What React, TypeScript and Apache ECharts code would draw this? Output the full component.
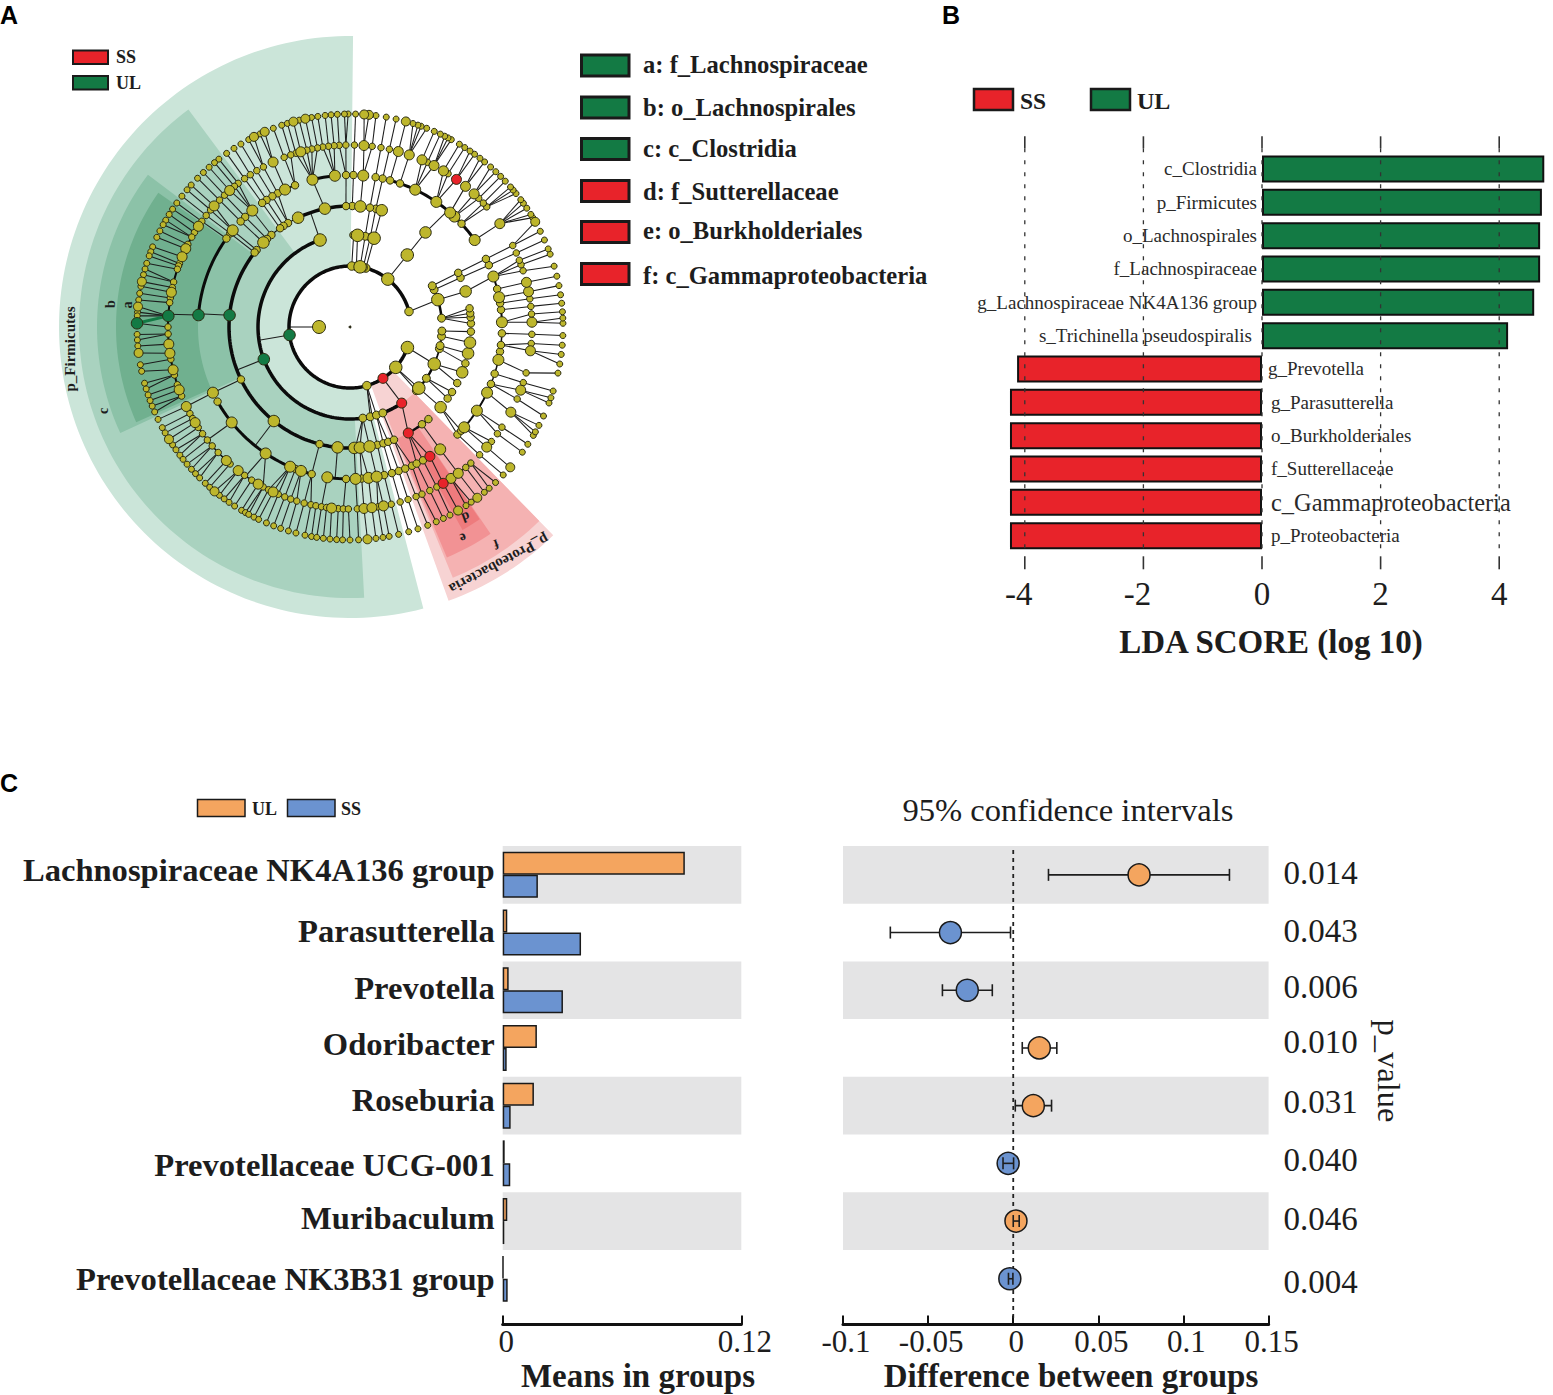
import React, { useEffect, useRef } from "react";
import * as echarts from "echarts";

const SERIF = '"Liberation Serif"';

// ---------- Panel A: cladogram, angles in degrees (counter-clockwise from east) ----------
const speciesSmall = [1, 2.4, 4.1, 6.4, 8.7, 11.2, 13.8, 16.6, 20, 21.5, 24.1, 26.7, 30.9, 31.9, 33.9, 35.5, 36.7, 38.8, 40, 41.1, 43.2, 45, 46.8, 48.7, 50.8, 52.4, 54.2, 55.7, 57.4, 59.1, 61.6, 62.6, 63.6, 64.9, 66.7, 68.9, 70.5, 71.4, 72.8, 77.5, 80.2, 83, 88.5, 90.5, 91.5, 93.4, 95.1, 96.7, 98.7, 100.4, 103.8, 107.1, 108.7, 111.1, 115, 118.4, 120.8, 123, 125.4, 128, 129.5, 131.4, 133.5, 135.7, 138.2, 139.9, 142.1, 144.4, 146.4, 148.1, 149.9, 151.3, 153.2, 155.1, 157.9, 159.3, 160.5, 162.6, 164.2, 165.8, 169, 170.9, 172.7, 176, 177, 182, 183.5, 185.1, 190.2, 192, 195.3, 196.9, 198.6, 200.2, 201.8, 203.5, 205.7, 208.2, 209.8, 213.6, 215.2, 217, 218.4, 220.1, 221.9, 223.5, 225.1, 227.2, 228.8, 232.2, 233.8, 235.4, 237.2, 239.4, 240.6, 241.6, 243.2, 244.6, 246.9, 249, 251, 253.2, 255.3, 257.8, 259.6, 261, 262.8, 264.6, 266.4, 268, 270, 272.3, 277, 278.9, 280.6, 283.2, 286, 288.6, 291.4, 293.9, 296, 298, 303, 304.7, 309.1, 310.8, 313.1, 316, 324, 326.6, 329.4, 330.5, 332.5, 335.3, 339.1, 340.6, 342.5, 347.5, 350, 352.6, 355.1, 357.7];
const speciesBig = [29.6, 74.8, 84.9, 86.2, 102.1, 105.4, 113.6, 116.8, 167.7, 174.5, 187, 211.8, 230.5, 274.7, 300.5, 306.7, 318.8];
const genusSmall = [4.1, 6.5, 8.9, 18, 20, 21.5, 24, 26.6, 41.3, 42.9, 45, 57.4, 64.8, 77.5, 80.2, 83, 88.6, 91.3, 93.4, 95, 96.8, 98.6, 100.3, 102.1, 103.7, 107.3, 109, 111.2, 118.4, 120.8, 123.2, 125.4, 127.9, 129.4, 133.6, 135.8, 140, 142.2, 144.5, 148.7, 150.4, 153, 159.6, 160.4, 161.5, 165.7, 167.5, 170.8, 172.3, 180, 182.2, 190.2, 195.3, 198.5, 202.3, 208.4, 210.2, 213.5, 215.9, 218.4, 220.8, 223.6, 228.8, 234.6, 237.3, 241.5, 243.4, 246.8, 249, 251, 253, 255.4, 257.6, 259.2, 261, 262.6, 266.3, 267.9, 269.5, 272.3, 278.8, 283.1, 286, 288.6, 291.3, 293.3, 296, 298.5, 309.5, 311.6, 315.4, 321, 324.1, 326.6, 336.7, 342.2, 345.4, 354.8, 357.7];
const genusBig = [1.5, 11.2, 14.2, 34.6, 47, 50.6, 59.1, 62.5, 66.7, 71, 74.6, 85.6, 105.7, 115, 131.4, 138.3, 146.4, 154.5, 157.3, 169, 185.4, 188.3, 193.6, 200.2, 205.9, 211.7, 227.2, 232.1, 239.7, 245, 264.2, 274.4, 276.9, 280.6, 303.7, 306.5, 318.7, 332.1, 339.7, 352.5];
const familySmall = [6.5, 9, 14.5, 24, 26.6, 42.8, 70.8, 74.7, 77.6, 80.3, 88.7, 91.5, 111.2, 118.4, 120.7, 123.3, 125.3, 133.6, 136, 142, 144.4, 209.4, 249, 255.4, 268.5, 274.4, 283, 286, 288.7, 291.3, 294.1, 296, 298.7, 315, 317, 338, 342.1, 350.7, 353.2, 357.6];
const familyBig = [1.8, 11.3, 19.4, 34.9, 46.6, 48.8, 55.4, 64.6, 85, 95.7, 104.3, 115.3, 130, 140.5, 205.6, 218.9, 236.3, 246.8, 251.2, 261.4, 272.1, 277, 280.1, 306.4, 318.7, 326.6, 334.4, 347.5];
const orderSmall = [1.7, 4.6, 6.5, 8.9, 24, 26.6, 77.7, 80.5, 88.9, 91.9, 120.8, 123.3, 125.3, 130.5, 133.3, 140.5, 142, 205.7, 255.4, 272.5, 283.1, 286, 288.4, 291.3, 306.5, 310.4, 323.8, 327.5, 332.4, 342.5, 357.8];
const orderBig = [17.1, 51.4, 74.8, 85.1, 102, 115.4, 135.7, 231, 264.1, 272, 274.7, 279.3, 318.5, 338, 347.4, 352.6];
const classSmall = [5.5, 23.9, 26.6, 77.3, 80.5, 87.7, 278, 282.7, 286.7, 290.9, 316.2, 326.1, 346.4, 348.3, 354.2, 357.5];
const classBig = [17.3, 51.5, 74.8, 85.3, 109, 318.4, 336.3];
const phylumSmall = [14.7, 75, 77.5, 84, 88.4, 286];
const phylumBig = [51.7, 80.5, 318.6, 340.3];
const innerNode = [[31, 180]];
const greenNodes = [[61, 187.5], [92, 200.5], [121, 174.4], [152, 175.5], [182, 176.5], [213, 179]];
const redNodes = [[61, 302.7], [92, 304.2], [121, 298.8], [152, 301.7], [182, 300.8], [182, 54.2]];
// radius, from angle, to angle, stroke width
const branchArcs = [
  [61, 14.7, 340.3, 3.5], [92, 109, 278, 3.5], [92, 290.9, 304.2, 3.5], [92, 5.5, 26.6, 2.5], [92, 318.4, 336.3, 2.5], [92, 336.3, 357.5, 1.8],
  [121, 85.1, 115.4, 3.5], [121, 115.4, 142, 1.2], [121, 142, 272, 3.5], [121, 298.8, 310.4, 2.5],
  [152, 144.4, 175.5, 3], [152, 209.4, 255.4, 3], [152, 261.4, 268.5, 3], [152, 34.9, 74.7, 3], [152, 1.8, 19.4, 2], [152, 95.7, 104.3, 3], [152, 111.2, 115.3, 2], [152, 318.7, 334.4, 2], [152, 334.4, 357.6, 1.5],
  [182, 145, 203, 2], [182, 205.9, 228.8, 1.5], [182, 232.1, 239.7, 1.5], [182, 259.2, 264.2, 1.5], [182, 266.3, 269.5, 1.5], [182, 303.7, 311.6, 1.5],
];
const stems = [
  [31, 180, 61, 180], [61, 187.5, 92, 188.3], [92, 200.5, 121, 200.8], [92, 109, 121, 109], [121, 174.4, 152, 175], [152, 175.5, 182, 176],
  [121, 231, 152, 231.4], [121, 255.4, 152, 255.4], [121, 264.1, 152, 264.4], [121, 102, 152, 104.3], [121, 51.4, 152, 50], [121, 17.1, 152, 19.4],
  [61, 14.7, 92, 17.3], [61, 340.3, 92, 336.3], [61, 318.6, 92, 318.4], [61, 302.7, 92, 304.2], [61, 286, 92, 284], [92, 304.2, 121, 298.8],
  [152, 205.6, 182, 205.9], [152, 218.9, 182, 218.4], [152, 236.3, 182, 235], [152, 261.4, 182, 261], [152, 268.5, 182, 267.9], [152, 306.4, 182, 306.5],
];
const greenLink = [[182, 176.5, 213, 179]];
// inner radius, outer radius, from angle, to angle
const cladeSectors = [
  [62, 291, 89.4, 284.6], [92, 271, 126.6, 273], [121, 253, 143, 204.8], [152, 234, 145, 204],
  [62, 291, 289.8, 314.3], [92, 271, 292.3, 314.3], [121, 250, 292.8, 304.2], [152, 232, 299, 304],
];
const cladeColors = ["#cbe5d9", "#a9d2bf", "#8cc2a8", "#70b08f", "#f7d3d3", "#f5b2b2", "#f29294", "#ee7b7d"];
const cladogramLegend = [
  ["a: f_Lachnospiraceae", "#137a44"], ["b: o_Lachnospirales", "#137a44"], ["c: c_Clostridia", "#137a44"],
  ["d: f_Sutterellaceae", "#e8232a"], ["e: o_Burkholderiales", "#e8232a"], ["f: c_Gammaproteobacteria", "#e8232a"],
];

// ---------- Panel B ----------
const ldaNames = ["c_Clostridia", "p_Firmicutes", "o_Lachnospirales", "f_Lachnospiraceae", "g_Lachnospiraceae NK4A136 group", "s_Trichinella pseudospiralis", "g_Prevotella", "g_Parasutterella", "o_Burkholderiales", "f_Sutterellaceae", "c_Gammaproteobacteria", "p_Proteobacteria"];
const ldaUL = [4.76, 4.72, 4.69, 4.69, 4.59, 4.15];
const ldaSS = [-4.13, -4.25, -4.25, -4.25, -4.25, -4.25];
const ldaTicks = [-4, -2, 0, 2, 4];

// ---------- Panel C ----------
const genera = ["Lachnospiraceae NK4A136 group", "Parasutterella", "Prevotella", "Odoribacter", "Roseburia", "Prevotellaceae UCG-001", "Muribaculum", "Prevotellaceae NK3B31 group"];
const meanUL = [0.0916, 0.0023, 0.003, 0.0172, 0.0157, 0.001, 0.0023, 0.0003];
const meanSS = [0.0177, 0.0394, 0.0303, 0.002, 0.004, 0.0038, 0.0008, 0.0025];
const diffMean = [0.0739, -0.0369, -0.027, 0.0153, 0.0118, -0.003, 0.0016, -0.002];
const diffLow = [0.0207, -0.0722, -0.0416, 0.0053, 0.0012, -0.006, 0, -0.0028];
const diffHigh = [0.127, -0.0016, -0.0123, 0.0256, 0.0225, 0.0002, 0.0035, -0.0002];
const pValues = ["0.014", "0.043", "0.006", "0.010", "0.031", "0.040", "0.046", "0.004"];
const generaNudge = [-5, -2, -2, -4, -6, 2, -3, 0];
const pValueNudge = [-2, -2, -3, -6, -4, -3, -2, 3];
const ORANGE = "#f4a55f";
const BLUE = "#6b93d0";
const INK = "#1d1d1d";

// One rich style per row, so each label can sit a few pixels off its row centre as in the figure.
const nudgedRich = (nudges: number[], base: any) => {
  const rich: any = {};
  nudges.forEach((n, i) => {
    rich[`r${i}`] = { ...base, padding: n < 0 ? [0, 0, -2 * n, 0] : [2 * n, 0, 0, 0] };
  });
  return rich;
};
const rowFormatter = (labels: string[]) => (value: string) => `{r${labels.indexOf(value)}|${value}}`;

const rings = [
  { r: 213, small: speciesSmall, big: speciesBig, s: 6, b: 9 },
  { r: 182, small: genusSmall, big: genusBig, s: 6.5, b: 10 },
  { r: 152, small: familySmall, big: familyBig, s: 7.5, b: 11 },
  { r: 121, small: orderSmall, big: orderBig, s: 7.5, b: 11.5 },
  { r: 92, small: classSmall, big: classBig, s: 8, b: 12.5 },
  { r: 61, small: phylumSmall, big: phylumBig, s: 8.5, b: 12.5 },
];
const angleGap = (a: number, b: number) => { const d = Math.abs(a - b) % 360; return d > 180 ? 360 - d : d; };
const onArc = (r: number, a: number) => branchArcs.some((k) => k[0] === r && a >= k[1] - 0.01 && a <= k[2] + 0.01);
const hlAngles = (r: number) => [...greenNodes, ...redNodes].filter((n) => n[0] === r).map((n) => n[1]);
const anglesOf = (ring: any) => [...ring.small, ...ring.big, ...hlAngles(ring.r)];
const parentLinks: number[][] = [];
rings.slice(0, -1).forEach((ring, i) => {
  const parents = anglesOf(rings[i + 1]);
  anglesOf(ring).forEach((a) => {
    if (onArc(ring.r, a)) return;
    const p = parents.reduce((best, c) => (angleGap(c, a) < angleGap(best, a) ? c : best), parents[0]);
    parentLinks.push([ring.r, a, rings[i + 1].r, p]);
  });
});
const olive: number[][] = [];
rings.forEach((ring) => {
  ring.small.forEach((a) => olive.push([ring.r, a, ring.s]));
  ring.big.forEach((a) => olive.push([ring.r, a, ring.b]));
});
innerNode.forEach((n) => olive.push([n[0], n[1], 13]));

const polarBase = { coordinateSystem: "polar", polarIndex: 0, silent: true, animation: false };
const sampleArc = (api: any, r: number, from: number, to: number) => {
  const pts: number[][] = [];
  const n = Math.max(2, Math.ceil(Math.abs(to - from) / 1.5));
  for (let i = 0; i <= n; i++) { const p = api.coord([r, from + ((to - from) * i) / n]); pts.push([p[0], p[1]]); }
  return pts;
};
const lineSeries = (data: number[][], stroke: string, width: number, z: number) => ({
  ...polarBase, type: "custom", z, data,
  renderItem: (_p: any, api: any) => {
    const a = api.coord([api.value(0), api.value(1)]);
    const b = api.coord([api.value(2), api.value(3)]);
    return { type: "line", shape: { x1: a[0], y1: a[1], x2: b[0], y2: b[1] }, style: { stroke, lineWidth: width } };
  },
});
const nodeSeries = (data: number[][], color: string, z: number) => ({
  ...polarBase, type: "scatter", z, data, symbol: "circle",
  symbolSize: (v: number[]) => v[2],
  itemStyle: { color, borderColor: "#2b2b10", borderWidth: 1, opacity: 1 },
});

const ciSeries = (rows: number[], z: number) => ({
  type: "custom", xAxisIndex: 2, yAxisIndex: 2, z, silent: true,
  data: rows.map((i) => [diffLow[i], diffHigh[i], i]),
  encode: { x: [0, 1], y: 2 },
  renderItem: (_p: any, api: any) => {
    const a = api.coord([api.value(0), api.value(2)]);
    const b = api.coord([api.value(1), api.value(2)]);
    const st = { stroke: INK, lineWidth: 1.6 };
    return { type: "group", children: [
      { type: "line", shape: { x1: a[0], y1: a[1], x2: b[0], y2: b[1] }, style: st },
      { type: "line", shape: { x1: a[0], y1: a[1] - 6, x2: a[0], y2: a[1] + 6 }, style: st },
      { type: "line", shape: { x1: b[0], y1: b[1] - 6, x2: b[0], y2: b[1] + 6 }, style: st },
    ] };
  },
});

const txt = (text: string, x: number, y: number, font: string, extra: any = {}) => ({
  type: "text", x, y, z: 20,
  rotation: extra.rotation || 0,
  style: { text, font, fill: extra.fill || INK, textAlign: extra.align || "center", textVerticalAlign: "middle" },
});
const box = (x: number, y: number, w: number, h: number, fill: string, lw = 2) => ({
  type: "rect", z: 20, shape: { x, y, width: w, height: h }, style: { fill, stroke: "#1a1a1a", lineWidth: lw },
});
const deg = (d: number) => (d * Math.PI) / 180;
const ldaLabelRich = {
  n: { fontFamily: SERIF, fontSize: 33, color: INK, padding: [0, 12, 0, 0] },
  p: { fontFamily: SERIF, fontSize: 33, color: INK },
};

const buildOption = () => ({
  animation: false,
  backgroundColor: "#ffffff",
  polar: { center: [350, 327], radius: [0, 300] },
  radiusAxis: { polarIndex: 0, type: "value", min: 0, max: 300, show: false },
  angleAxis: { polarIndex: 0, type: "value", min: 0, max: 360, startAngle: 0, clockwise: false, show: false },
  grid: [
    { left: 995.15, width: 551.5, top: 152.3, height: 400 },
    { left: 502.7, width: 238.6, top: 846, height: 461.6 },
    { left: 843, width: 425.6, top: 846, height: 461.6 },
  ],
  xAxis: [
    { gridIndex: 0, type: "value", min: -4.5, max: 4.8, splitLine: { show: false }, axisLine: { show: false }, axisTick: { show: false },
      axisLabel: { customValues: ldaTicks, margin: 25, hideOverlap: false, formatter: (v: number) => (v < 0 ? `{n|${v}}` : `{p|${v}}`), rich: ldaLabelRich } },
    { gridIndex: 1, type: "value", min: 0, max: 0.12, interval: 0.12, offset: 17, splitLine: { show: false },
      axisLine: { show: true, lineStyle: { color: "#111", width: 3 } },
      axisTick: { show: true, inside: true, length: 9, lineStyle: { color: "#111", width: 2 } },
      axisLabel: { margin: 1, color: INK, fontFamily: SERIF, fontSize: 31, padding: [0, 0, 0, 7], formatter: (v: number) => String(v) } },
    { gridIndex: 2, type: "value", min: -0.1, max: 0.15, interval: 0.05, offset: 17, splitLine: { show: false },
      axisLine: { show: true, lineStyle: { color: "#111", width: 3 } },
      axisTick: { show: true, inside: true, length: 9, lineStyle: { color: "#111", width: 2 } },
      axisLabel: { margin: 1, color: INK, fontFamily: SERIF, fontSize: 31, padding: [0, 0, 0, 6], formatter: (v: number) => String(+v.toFixed(2)) } },
  ],
  yAxis: [
    { gridIndex: 0, type: "category", inverse: true, data: ldaNames, axisLabel: { show: false }, axisLine: { show: false }, axisTick: { show: false } },
    { gridIndex: 1, type: "category", inverse: true, data: genera, axisLine: { show: false }, axisTick: { show: false },
      axisLabel: { margin: 8, interval: 0, formatter: rowFormatter(genera),
        rich: nudgedRich(generaNudge, { color: INK, fontFamily: SERIF, fontWeight: "bold", fontSize: 32.6 }) },
      splitArea: { show: true, interval: 0, areaStyle: { color: ["#e4e4e5", "rgba(255,255,255,0)"] } } },
    { gridIndex: 2, type: "category", inverse: true, position: "right", data: pValues, axisLine: { show: false }, axisTick: { show: false },
      axisLabel: { margin: 15, interval: 0, formatter: rowFormatter(pValues),
        rich: nudgedRich(pValueNudge, { color: INK, fontFamily: SERIF, fontSize: 33 }) },
      splitArea: { show: true, interval: 0, areaStyle: { color: ["#e4e4e5", "rgba(255,255,255,0)"] } } },
  ],
  graphic: { elements: [
    txt("A", 0, 15, 'bold 25px "Liberation Sans"', { align: "left", fill: "#000" }),
    txt("B", 942, 15, 'bold 25px "Liberation Sans"', { align: "left", fill: "#000" }),
    txt("C", 0, 783, 'bold 25px "Liberation Sans"', { align: "left", fill: "#000" }),
    box(73, 50.5, 35, 13.5, "#e8232a"), txt("SS", 116, 57, `bold 18px ${SERIF}`, { align: "left" }),
    box(73, 76, 35, 13.5, "#137a44"), txt("UL", 116, 83, `bold 18px ${SERIF}`, { align: "left" }),
    ...cladogramLegend.flatMap(([label, color], i) => {
      const cy = [65.5, 107.5, 149, 191, 232, 274][i];
      const ty = [64, 107, 148, 191, 230, 275][i];
      return [box(581.5, cy - 10.5, 47.5, 21, color, 3), txt(label, 643, ty, `bold 24.6px ${SERIF}`, { align: "left" })];
    }),
    txt("p_Firmicutes", 70, 349, `bold 15px ${SERIF}`, { rotation: deg(90) }),
    txt("c", 103, 411, `bold 14px ${SERIF}`, { rotation: deg(90) }),
    txt("b", 110, 304, `bold 14px ${SERIF}`, { rotation: deg(90) }),
    txt("a", 127, 305, `bold 14px ${SERIF}`, { rotation: deg(90) }),
    txt("p_Proteobacteria", 499, 564, `bold 15px ${SERIF}`, { rotation: deg(208) }),
    txt("d", 466, 517, `bold 14px ${SERIF}`, { rotation: deg(200) }),
    txt("e", 463, 538, `bold 14px ${SERIF}`, { rotation: deg(200) }),
    txt("f", 496, 544, `bold 14px ${SERIF}`, { rotation: deg(200) }),
    box(974, 89, 39, 21, "#e8232a", 2.5), txt("SS", 1020, 101, `bold 23.5px ${SERIF}`, { align: "left" }),
    box(1091, 89, 39, 21, "#137a44", 2.5), txt("UL", 1137, 101, `bold 24px ${SERIF}`, { align: "left" }),
    txt("LDA SCORE (log 10)", 1271, 642, `bold 33px ${SERIF}`),
    box(197.5, 799.5, 47.5, 17, ORANGE, 1.5), txt("UL", 252, 809, `bold 18px ${SERIF}`, { align: "left" }),
    box(287.5, 799.5, 47.5, 17, BLUE, 1.5), txt("SS", 341, 809, `bold 18px ${SERIF}`, { align: "left" }),
    txt("Means in groups", 638, 1376, `bold 33px ${SERIF}`),
    txt("Difference between groups", 1071, 1376, `bold 33px ${SERIF}`),
    txt("95% confidence intervals", 1068, 810, `32.6px ${SERIF}`),
    txt("p_value", 1389, 1071, `32.5px ${SERIF}`, { rotation: deg(-90) }),
  ] },
  series: [
    // Panel A
    { ...polarBase, type: "custom", z: 1, data: cladeSectors,
      renderItem: (p: any, api: any) => {
        const outer = sampleArc(api, api.value(1), api.value(2), api.value(3));
        const inner = sampleArc(api, api.value(0), api.value(3), api.value(2));
        return { type: "polygon", shape: { points: [...outer, ...inner] }, style: { fill: cladeColors[p.dataIndex] } };
      } },
    lineSeries(parentLinks, "#1c1c1c", 1.05, 2),
    lineSeries(stems, "#1c1c1c", 1.05, 2),
    { ...polarBase, type: "custom", z: 3, data: branchArcs,
      renderItem: (_p: any, api: any) => ({
        type: "polyline",
        shape: { points: sampleArc(api, api.value(0), api.value(1), api.value(2)) },
        style: { fill: "none", stroke: "#0b0b0b", lineWidth: api.value(3) },
      }) },
    lineSeries(greenLink, "#137a44", 3, 4),
    nodeSeries(olive, "#bdb62c", 5),
    nodeSeries(greenNodes.map((n) => [n[0], n[1], 11.5]), "#137a44", 6),
    nodeSeries(redNodes.map((n) => [n[0], n[1], 10]), "#e8232a", 6),
    nodeSeries([[0, 0, 2]], "#111", 6),
    // Panel B
    { type: "bar", name: "UL", xAxisIndex: 0, yAxisIndex: 0, barWidth: 27, barGap: "-100%", z: 2,
      itemStyle: { color: "#137a44", borderColor: "#111", borderWidth: 2 },
      data: ldaUL.map((v, i) => ({ value: v, label: { show: true, position: "left", distance: i === 5 ? 10 : 5, formatter: ldaNames[i], color: "#2a2a2a", fontFamily: SERIF, fontSize: 19 } })) },
    { type: "bar", name: "SS", xAxisIndex: 0, yAxisIndex: 0, barWidth: 27, barGap: "-100%", z: 2,
      itemStyle: { color: "#e8232a", borderColor: "#111", borderWidth: 2 },
      data: [...ldaUL.map(() => null), ...ldaSS.map((v, i) => ({ value: v, label: { show: true, position: "right", distance: i === 0 ? 6 : 9, formatter: ldaNames[i + 6], color: "#2a2a2a", fontFamily: SERIF, fontSize: i === 4 ? 24.4 : 19 } }))] },
    { type: "custom", xAxisIndex: 0, yAxisIndex: 0, z: 6, silent: true, data: ldaTicks.map((v) => [v, 0]), encode: { x: 0, y: 1 },
      renderItem: (p: any, api: any) => {
        const x = api.coord([api.value(0), 0])[0];
        const top = p.coordSys.y;
        const bottom = p.coordSys.y + p.coordSys.height;
        return { type: "group", children: [
          { type: "line", shape: { x1: x, y1: top - 16, x2: x, y2: top - 4 }, style: { stroke: "#333", lineWidth: 1.6 } },
          { type: "line", shape: { x1: x, y1: top - 4, x2: x, y2: bottom + 3 }, style: { stroke: "#333", lineWidth: 1.3, lineDash: [4, 8] } },
          { type: "line", shape: { x1: x, y1: bottom + 4, x2: x, y2: bottom + 17 }, style: { stroke: "#333", lineWidth: 1.6 } },
        ] };
      } },
    // Panel C, means
    { type: "bar", name: "UL", xAxisIndex: 1, yAxisIndex: 1, data: meanUL, barWidth: 23, barGap: 0, itemStyle: { color: ORANGE, borderColor: "#1a1a1a", borderWidth: 1.5 } },
    { type: "bar", name: "SS", xAxisIndex: 1, yAxisIndex: 1, data: meanSS, barWidth: 23, barGap: 0, itemStyle: { color: BLUE, borderColor: "#1a1a1a", borderWidth: 1.5 } },
    // Panel C, differences
    { type: "custom", xAxisIndex: 2, yAxisIndex: 2, z: 1, silent: true, data: [[0, 0]], encode: { x: 0, y: 1 },
      renderItem: (p: any, api: any) => {
        const x = api.coord([api.value(0), 0])[0];
        return { type: "line", shape: { x1: x, y1: p.coordSys.y + 4, x2: x, y2: p.coordSys.y + p.coordSys.height + 13 }, style: { stroke: "#222", lineWidth: 1.8, lineDash: [4, 4] } };
      } },
    ciSeries([0, 1, 2, 3, 4], 2),
    { type: "scatter", xAxisIndex: 2, yAxisIndex: 2, z: 3, symbol: "circle", symbolSize: 22,
      data: diffMean.map((v, i) => [v, i]),
      itemStyle: { color: (p: any) => (diffMean[p.dataIndex] > 0 ? ORANGE : BLUE), borderColor: "#1a1a1a", borderWidth: 1.5, opacity: 1 } },
    ciSeries([5, 6, 7], 4),
  ],
});

export default function App() {
  const ref = useRef<HTMLDivElement>(null);
  useEffect(() => {
    const chart = echarts.init(ref.current as HTMLDivElement, undefined, { renderer: "svg" });
    chart.setOption(buildOption() as any);
    return () => chart.dispose();
  }, []);
  return <div ref={ref} style={{ position: "absolute", left: 0, top: 0, width: 1553, height: 1395 }} />;
}
